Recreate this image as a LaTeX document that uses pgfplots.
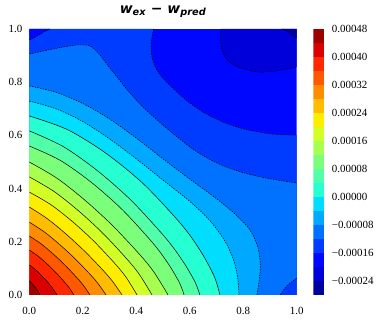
\documentclass[border=0pt]{standalone}
\usepackage{pgfplots}
\usepackage{pgfplotstable}
\pgfplotsset{compat=1.18}
\usepackage{fontspec}
\setmainfont{Liberation Serif}
\newfontfamily\djv{DejaVu Sans}

% band colours (jet sampled at the 19 band midpoints)
\definecolor{c0}{rgb}{0,0,0.620}
\definecolor{c1}{rgb}{0,0,0.859}
\definecolor{c2}{rgb}{0,0.026,1}
\definecolor{c3}{rgb}{0,0.237,1}
\definecolor{c4}{rgb}{0,0.447,1}
\definecolor{c5}{rgb}{0,0.658,1}
\definecolor{c6}{rgb}{0,0.868,0.993}
\definecolor{c7}{rgb}{0.144,1,0.823}
\definecolor{c8}{rgb}{0.314,1,0.654}
\definecolor{c9}{rgb}{0.484,1,0.484}
\definecolor{c10}{rgb}{0.654,1,0.314}
\definecolor{c11}{rgb}{0.823,1,0.144}
\definecolor{c12}{rgb}{0.993,0.934,0}
\definecolor{c13}{rgb}{1,0.739,0}
\definecolor{c14}{rgb}{1,0.544,0}
\definecolor{c15}{rgb}{1,0.349,0}
\definecolor{c16}{rgb}{1,0.154,0}
\definecolor{c17}{rgb}{0.859,0,0}
\definecolor{c18}{rgb}{0.620,0,0}

% contour lines, levels -0.00024 ... 0.00044 (step 0.00004)
\pgfplotstableread[row sep=\\]{x y\\ 0.945 1\\ 0.966 0.99\\ 0.985 0.977\\ 1 0.966\\}\lone
\pgfplotstableread[row sep=\\]{x y\\ 0.717 1\\ 0.716 0.958\\ 0.722 0.915\\ 0.742 0.882\\ 0.775 0.86\\ 0.82 0.846\\ 0.86 0.838\\ 0.91 0.841\\ 0.96 0.849\\ 1 0.857\\}\ltwo
\pgfplotstableread[row sep=\\]{x y\\ 0 0.959\\ 0.028 0.973\\ 0.053 0.988\\ 0.077 1\\}\lthreeTL
\pgfplotstableread[row sep=\\]{x y\\ 0.465 1\\ 0.456 0.95\\ 0.458 0.9\\ 0.472 0.855\\ 0.5 0.815\\ 0.545 0.77\\ 0.6 0.722\\ 0.66 0.682\\ 0.73 0.648\\ 0.8 0.625\\ 0.88 0.609\\ 0.94 0.603\\ 1 0.601\\}\lthreeB
\pgfplotstableread[row sep=\\]{x y\\ 0 0.906\\ 0.06 0.919\\ 0.12 0.931\\ 0.18 0.94\\ 0.225 0.937\\ 0.258 0.91\\ 0.29 0.868\\ 0.33 0.817\\ 0.37 0.767\\ 0.42 0.712\\ 0.48 0.656\\ 0.55 0.597\\ 0.62 0.543\\ 0.7 0.497\\ 0.78 0.466\\ 0.86 0.445\\ 0.93 0.432\\ 1 0.421\\}\lfourA
\pgfplotstableread[row sep=\\]{x y\\ 1 0.063\\ 0.978 0.047\\ 0.957 0.026\\ 0.938 0\\}\lfourBR
\pgfplotstableread[row sep=\\]{x y\\ 0 0.786\\ 0.1 0.762\\ 0.2 0.72\\ 0.3 0.662\\ 0.4 0.59\\ 0.5 0.512\\ 0.6 0.436\\ 0.7 0.362\\ 0.77 0.304\\ 0.825 0.245\\ 0.855 0.178\\ 0.864 0.11\\ 0.859 0.05\\ 0.851 0\\}\lfive
\pgfplotstableread[row sep=\\]{x y\\ 0 0.729\\ 0.1 0.7\\ 0.2 0.652\\ 0.3 0.587\\ 0.4 0.512\\ 0.5 0.432\\ 0.6 0.352\\ 0.675 0.28\\ 0.73 0.205\\ 0.763 0.135\\ 0.779 0.066\\ 0.784 0\\}\lsix
\pgfplotstableread[row sep=\\]{x y\\ 0 0.673\\ 0.1426 0.6217\\ 0.2852 0.5337\\ 0.4278 0.4167\\ 0.5704 0.2631\\ 0.6417 0.1629\\ 0.6916 0.0697\\ 0.713 0\\}\lseven
\pgfplotstableread[row sep=\\]{x y\\ 0 0.617\\ 0.1276 0.5576\\ 0.2552 0.4669\\ 0.3828 0.3538\\ 0.5104 0.2137\\ 0.5742 0.127\\ 0.6189 0.0507\\ 0.638 0\\}\leight
\pgfplotstableread[row sep=\\]{x y\\ 0 0.56\\ 0.1158 0.5061\\ 0.2316 0.4238\\ 0.3474 0.3211\\ 0.4632 0.1939\\ 0.5211 0.1152\\ 0.5616 0.046\\ 0.579 0\\}\lnine
\pgfplotstableread[row sep=\\]{x y\\ 0 0.5\\ 0.1038 0.4388\\ 0.2076 0.3568\\ 0.3114 0.261\\ 0.4152 0.1495\\ 0.4671 0.0847\\ 0.519 0\\}\lten
\pgfplotstableread[row sep=\\]{x y\\ 0 0.444\\ 0.0918 0.3897\\ 0.1836 0.3168\\ 0.2754 0.2318\\ 0.3672 0.1328\\ 0.4131 0.0752\\ 0.459 0\\}\leleven
\pgfplotstableread[row sep=\\]{x y\\ 0 0.387\\ 0.0806 0.3396\\ 0.1612 0.2762\\ 0.2418 0.202\\ 0.3224 0.1157\\ 0.3627 0.0656\\ 0.403 0\\}\ltwelve
\pgfplotstableread[row sep=\\]{x y\\ 0 0.331\\ 0.0694 0.2853\\ 0.1388 0.228\\ 0.2082 0.1634\\ 0.2776 0.0909\\ 0.3123 0.0501\\ 0.347 0\\}\lthirteen
\pgfplotstableread[row sep=\\]{x y\\ 0 0.274\\ 0.0574 0.2362\\ 0.1148 0.1887\\ 0.1722 0.1353\\ 0.2296 0.0753\\ 0.2583 0.0415\\ 0.287 0\\}\lfourteen
\pgfplotstableread[row sep=\\]{x y\\ 0 0.222\\ 0.0454 0.1913\\ 0.0908 0.1529\\ 0.1362 0.1096\\ 0.1816 0.061\\ 0.2043 0.0336\\ 0.227 0\\}\lfifteen
\pgfplotstableread[row sep=\\]{x y\\ 0 0.169\\ 0.0334 0.1457\\ 0.0668 0.1164\\ 0.1002 0.0835\\ 0.1336 0.0464\\ 0.1503 0.0256\\ 0.167 0\\}\lsixteen
\pgfplotstableread[row sep=\\]{x y\\ 0 0.113\\ 0.0208 0.0974\\ 0.0416 0.0778\\ 0.0624 0.0558\\ 0.0832 0.031\\ 0.104 0\\}\lseventeen
\pgfplotstableread[row sep=\\]{x y\\ 0 0.053\\ 0.016 0.0365\\ 0.032 0.0146\\ 0.04 0\\}\leighteen

\begin{document}
\begin{tikzpicture}
\begin{axis}[
  name=main,
  scale only axis, width=267.4bp, height=266bp,
  xmin=0, xmax=1, ymin=0, ymax=1,
  axis line style={draw=none}, major tick style={draw=none},
  xtick={0,0.2,0.4,0.6,0.8,1}, xticklabels={0.0,0.2,0.4,0.6,0.8,1.0},
  ytick={0,0.2,0.4,0.6,0.8,1}, yticklabels={0.0,0.2,0.4,0.6,0.8,1.0},
  tick label style={font=\fontsize{11}{13}\selectfont},
  xticklabel style={yshift=-8.5bp},
  yticklabel style={xshift=-3.5bp},
  title={\djv\bfseries\itshape w\textsubscript{ex} − w\textsubscript{pred}},
  title style={at={(0.5,1)}, anchor=base, yshift=9.5bp, font=\fontsize{14}{16}\selectfont},
  band/.style={draw=none, smooth},
  neg/.style={black, line width=0.5bp, dash pattern=on 1.6bp off 1.1bp, smooth},
  pos/.style={black, line width=0.5bp, smooth},
]
% filled bands, lowest first
\addplot[draw=none, fill=c2] coordinates {(0,0) (1,0) (1,1) (0,1)} -- cycle;
\addplot[band, fill=c1] table {\ltwo} -- (1,1) -- cycle;
\addplot[band, fill=c0] table {\lone} -- (1,1) -- cycle;
\addplot[band, fill=c3] table {\lthreeB} -- (1,0) -- (0,0) -- (0,1) -- cycle;
\addplot[band, fill=c2] table {\lthreeTL} -- (0,1) -- cycle;
\addplot[band, fill=c4] table {\lfourA} -- (1,0) -- (0,0) -- cycle;
\addplot[band, fill=c3] table {\lfourBR} -- (1,0) -- cycle;
\addplot[band, fill=c5] table {\lfive} -- (0,0) -- cycle;
\addplot[band, fill=c6] table {\lsix} -- (0,0) -- cycle;
\addplot[band, fill=c7] table {\lseven} -- (0,0) -- cycle;
\addplot[band, fill=c8] table {\leight} -- (0,0) -- cycle;
\addplot[band, fill=c9] table {\lnine} -- (0,0) -- cycle;
\addplot[band, fill=c10] table {\lten} -- (0,0) -- cycle;
\addplot[band, fill=c11] table {\leleven} -- (0,0) -- cycle;
\addplot[band, fill=c12] table {\ltwelve} -- (0,0) -- cycle;
\addplot[band, fill=c13] table {\lthirteen} -- (0,0) -- cycle;
\addplot[band, fill=c14] table {\lfourteen} -- (0,0) -- cycle;
\addplot[band, fill=c15] table {\lfifteen} -- (0,0) -- cycle;
\addplot[band, fill=c16] table {\lsixteen} -- (0,0) -- cycle;
\addplot[band, fill=c17] table {\lseventeen} -- (0,0) -- cycle;
\addplot[band, fill=c18] table {\leighteen} -- (0,0) -- cycle;
% contour lines
\addplot[neg] table {\lone};
\addplot[neg] table {\ltwo};
\addplot[neg] table {\lthreeTL};
\addplot[neg] table {\lthreeB};
\addplot[neg] table {\lfourA};
\addplot[neg] table {\lfourBR};
\addplot[neg] table {\lfive};
\addplot[neg] table {\lsix};
\addplot[pos] table {\lseven};
\addplot[pos] table {\leight};
\addplot[pos] table {\lnine};
\addplot[pos] table {\lten};
\addplot[pos] table {\leleven};
\addplot[pos] table {\ltwelve};
\addplot[pos] table {\lthirteen};
\addplot[pos] table {\lfourteen};
\addplot[pos] table {\lfifteen};
\addplot[pos] table {\lsixteen};
\addplot[pos] table {\lseventeen};
\addplot[pos] table {\leighteen};
\end{axis}

% colour bar, values in units of 1e-5
\begin{axis}[
  at={(main.south east)}, anchor=south west, xshift=16.6bp,
  scale only axis, width=11bp, height=266bp,
  xmin=0, xmax=1, ymin=-28, ymax=48,
  axis line style={draw=none}, major tick style={draw=none},
  xtick=\empty,
  ytick={-24,-16,-8,0,8,16,24,32,40,48},
  yticklabels={−0.00024,−0.00016,−0.00008,0.00000,0.00008,0.00016,0.00024,0.00032,0.00040,0.00048},
  yticklabel pos=right,
  tick label style={font=\fontsize{11}{13}\selectfont},
  yticklabel style={xshift=4bp},
]
\addplot[draw=none, fill=c0] coordinates {(0,-28) (1,-28) (1,-24) (0,-24)} -- cycle;
\addplot[draw=none, fill=c1] coordinates {(0,-24) (1,-24) (1,-20) (0,-20)} -- cycle;
\addplot[draw=none, fill=c2] coordinates {(0,-20) (1,-20) (1,-16) (0,-16)} -- cycle;
\addplot[draw=none, fill=c3] coordinates {(0,-16) (1,-16) (1,-12) (0,-12)} -- cycle;
\addplot[draw=none, fill=c4] coordinates {(0,-12) (1,-12) (1,-8) (0,-8)} -- cycle;
\addplot[draw=none, fill=c5] coordinates {(0,-8) (1,-8) (1,-4) (0,-4)} -- cycle;
\addplot[draw=none, fill=c6] coordinates {(0,-4) (1,-4) (1,0) (0,0)} -- cycle;
\addplot[draw=none, fill=c7] coordinates {(0,0) (1,0) (1,4) (0,4)} -- cycle;
\addplot[draw=none, fill=c8] coordinates {(0,4) (1,4) (1,8) (0,8)} -- cycle;
\addplot[draw=none, fill=c9] coordinates {(0,8) (1,8) (1,12) (0,12)} -- cycle;
\addplot[draw=none, fill=c10] coordinates {(0,12) (1,12) (1,16) (0,16)} -- cycle;
\addplot[draw=none, fill=c11] coordinates {(0,16) (1,16) (1,20) (0,20)} -- cycle;
\addplot[draw=none, fill=c12] coordinates {(0,20) (1,20) (1,24) (0,24)} -- cycle;
\addplot[draw=none, fill=c13] coordinates {(0,24) (1,24) (1,28) (0,28)} -- cycle;
\addplot[draw=none, fill=c14] coordinates {(0,28) (1,28) (1,32) (0,32)} -- cycle;
\addplot[draw=none, fill=c15] coordinates {(0,32) (1,32) (1,36) (0,36)} -- cycle;
\addplot[draw=none, fill=c16] coordinates {(0,36) (1,36) (1,40) (0,40)} -- cycle;
\addplot[draw=none, fill=c17] coordinates {(0,40) (1,40) (1,44) (0,44)} -- cycle;
\addplot[draw=none, fill=c18] coordinates {(0,44) (1,44) (1,48) (0,48)} -- cycle;
\end{axis}

\pgfresetboundingbox
\path[use as bounding box] ([shift={(-29.3bp,-33bp)}]main.south west) rectangle ++(382bp,328bp);
\end{tikzpicture}
\end{document}
